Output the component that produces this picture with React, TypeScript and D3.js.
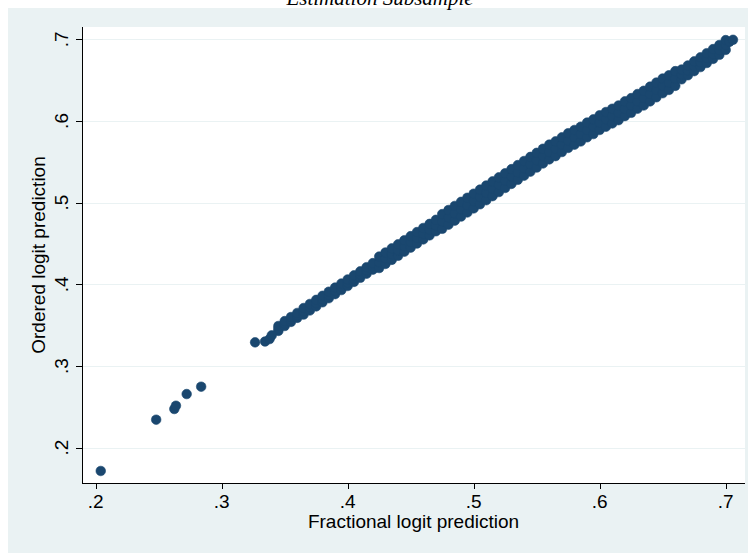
import React from "react";
import * as d3 from "d3";

const titleText = "Estimation Subsample";
const xTitle = "Fractional logit prediction";
const yTitle = "Ordered logit prediction";

const xTicks = [0.2, 0.3, 0.4, 0.5, 0.6, 0.7];
const xTickLabels = [".2", ".3", ".4", ".5", ".6", ".7"];
const yTicks = [0.2, 0.3, 0.4, 0.5, 0.6, 0.7];
const yTickLabels = [".2", ".3", ".4", ".5", ".6", ".7"];

// Dense band of observations: fractional logit prediction grid with lower / middle / upper ordered logit values
const fracGrid = [
  0.345, 0.35, 0.355, 0.36, 0.365, 0.37, 0.375, 0.38, 0.385, 0.39,
  0.395, 0.40, 0.405, 0.41, 0.415, 0.42, 0.425, 0.43, 0.435, 0.44,
  0.445, 0.45, 0.455, 0.46, 0.465, 0.47, 0.475, 0.48, 0.485, 0.49,
  0.495, 0.50, 0.505, 0.51, 0.515, 0.52, 0.525, 0.53, 0.535, 0.54,
  0.545, 0.55, 0.555, 0.56, 0.565, 0.57, 0.575, 0.58, 0.585, 0.59,
  0.595, 0.60, 0.605, 0.61, 0.615, 0.62, 0.625, 0.63, 0.635, 0.64,
  0.645, 0.65, 0.655, 0.66, 0.665, 0.67, 0.675, 0.68, 0.685, 0.69,
  0.695, 0.70,
];
const ordLow = [
  0.343, 0.349, 0.354, 0.359, 0.363, 0.368, 0.373, 0.378, 0.383, 0.388,
  0.393, 0.398, 0.403, 0.408, 0.413, 0.418, 0.420, 0.425, 0.430, 0.435,
  0.440, 0.445, 0.450, 0.455, 0.460, 0.465, 0.468, 0.473, 0.478, 0.483,
  0.488, 0.493, 0.498, 0.503, 0.508, 0.513, 0.518, 0.523, 0.528, 0.533,
  0.538, 0.543, 0.548, 0.553, 0.557, 0.562, 0.567, 0.571, 0.575, 0.580,
  0.584, 0.589, 0.593, 0.597, 0.601, 0.606, 0.610, 0.615, 0.619, 0.624,
  0.629, 0.634, 0.638, 0.643, 0.651, 0.656, 0.661, 0.666, 0.671, 0.676,
  0.681, 0.687,
];
const ordMid = [
  0.346, 0.352, 0.357, 0.362, 0.367, 0.372, 0.377, 0.382, 0.387, 0.392,
  0.397, 0.402, 0.407, 0.412, 0.417, 0.422, 0.427, 0.432, 0.437, 0.442,
  0.447, 0.452, 0.457, 0.462, 0.467, 0.472, 0.477, 0.482, 0.487, 0.492,
  0.497, 0.502, 0.507, 0.512, 0.517, 0.522, 0.527, 0.532, 0.537, 0.542,
  0.547, 0.552, 0.557, 0.562, 0.566, 0.571, 0.576, 0.580, 0.584, 0.589,
  0.593, 0.598, 0.602, 0.606, 0.610, 0.615, 0.619, 0.624, 0.628, 0.633,
  0.638, 0.643, 0.647, 0.652, 0.657, 0.662, 0.667, 0.672, 0.677, 0.682,
  0.687, 0.693,
];
const ordHigh = [
  0.349, 0.355, 0.360, 0.365, 0.371, 0.376, 0.381, 0.386, 0.391, 0.396,
  0.401, 0.406, 0.411, 0.416, 0.421, 0.426, 0.434, 0.439, 0.444, 0.449,
  0.454, 0.459, 0.464, 0.469, 0.474, 0.479, 0.486, 0.491, 0.496, 0.501,
  0.506, 0.511, 0.516, 0.521, 0.526, 0.531, 0.536, 0.541, 0.546, 0.551,
  0.556, 0.561, 0.566, 0.571, 0.575, 0.580, 0.585, 0.589, 0.593, 0.598,
  0.602, 0.607, 0.611, 0.615, 0.619, 0.624, 0.628, 0.633, 0.637, 0.642,
  0.647, 0.652, 0.656, 0.661, 0.663, 0.668, 0.673, 0.678, 0.683, 0.688,
  0.693, 0.699,
];

// Isolated observations (outliers and band ends)
const extraFrac = [0.204, 0.248, 0.2624, 0.2637, 0.2722, 0.2837, 0.3265, 0.3344, 0.338, 0.3397, 0.703, 0.7058];
const extraOrd = [0.1715, 0.2343, 0.2474, 0.2514, 0.2657, 0.2747, 0.329, 0.330, 0.333, 0.3375, 0.697, 0.6994];

const W = 752;
const H = 553;
const plotLeft = 82;
const plotRight = 745;
const plotTop = 27;
const plotBottom = 483;

const BG = "#EAF2F3";
const MARKER = "#1A476F";
const FONT = "'Liberation Sans', Arial, Helvetica, sans-serif";

export default function App() {
  const x = d3.scaleLinear().domain([0.2, 0.7]).range([95.7, 725.7]);
  const y = d3.scaleLinear().domain([0.2, 0.7]).range([447.7, 39.3]);

  const points: [number, number][] = [];
  const n = Math.min(fracGrid.length, ordLow.length, ordMid.length, ordHigh.length);
  for (let i = 0; i < n; i++) {
    points.push([fracGrid[i], ordLow[i]]);
    points.push([fracGrid[i], ordMid[i]]);
    points.push([fracGrid[i], ordHigh[i]]);
  }
  for (let i = 0; i < extraFrac.length; i++) points.push([extraFrac[i], extraOrd[i]]);

  return (
    <svg
      width={W}
      height={H}
      style={{ position: "absolute", left: 0, top: 0, display: "block" }}
    >
      <rect x={0} y={0} width={W} height={H} fill="#ffffff" />
      <rect x={8} y={8} width={740} height={H - 8} fill={BG} />
      <text
        x={380}
        y={4.5}
        textAnchor="middle"
        fontFamily="'Liberation Serif', 'Times New Roman', serif"
        fontStyle="italic"
        fontSize={21}
        fill="#000"
      >
        {titleText}
      </text>
      <rect
        x={plotLeft}
        y={plotTop}
        width={plotRight - plotLeft}
        height={plotBottom - plotTop}
        fill="#ffffff"
      />
      {yTicks.map((t) => (
        <line
          key={"g" + t}
          x1={plotLeft}
          x2={plotRight}
          y1={Math.round(y(t)) + 0.5}
          y2={Math.round(y(t)) + 0.5}
          stroke={BG}
          strokeWidth={1.2}
        />
      ))}
      {points.map((p, i) => (
        <circle
          key={i}
          cx={x(p[0])}
          cy={y(p[1])}
          r={4.8}
          fill={MARKER}
          stroke={MARKER}
          strokeWidth={0.6}
        />
      ))}
      <line x1={plotLeft + 0.5} x2={plotLeft + 0.5} y1={plotTop} y2={plotBottom + 0.5} stroke="#000" strokeWidth={1} />
      <line x1={plotLeft} x2={plotRight} y1={plotBottom + 0.5} y2={plotBottom + 0.5} stroke="#000" strokeWidth={1} />
      {yTicks.map((t, i) => (
        <g key={"yt" + t}>
          <line
            x1={plotLeft - 6}
            x2={plotLeft}
            y1={Math.round(y(t)) + 0.5}
            y2={Math.round(y(t)) + 0.5}
            stroke="#000"
            strokeWidth={1}
          />
          <text
            transform={`translate(67.5,${y(t)}) rotate(-90)`}
            textAnchor="middle"
            fontFamily={FONT}
            fontSize={19}
            fill="#000"
          >
            {yTickLabels[i]}
          </text>
        </g>
      ))}
      {xTicks.map((t, i) => (
        <g key={"xt" + t}>
          <line
            x1={Math.round(x(t)) + 0.5}
            x2={Math.round(x(t)) + 0.5}
            y1={plotBottom}
            y2={plotBottom + 6}
            stroke="#000"
            strokeWidth={1}
          />
          <text x={x(t)} y={507.5} textAnchor="middle" fontFamily={FONT} fontSize={19} fill="#000">
            {xTickLabels[i]}
          </text>
        </g>
      ))}
      <text
        x={(plotLeft + plotRight) / 2}
        y={528}
        textAnchor="middle"
        fontFamily={FONT}
        fontSize={19}
        fill="#000"
      >
        {xTitle}
      </text>
      <text
        transform={`translate(45,${(plotTop + plotBottom) / 2}) rotate(-90)`}
        textAnchor="middle"
        fontFamily={FONT}
        fontSize={19}
        fill="#000"
      >
        {yTitle}
      </text>
    </svg>
  );
}
